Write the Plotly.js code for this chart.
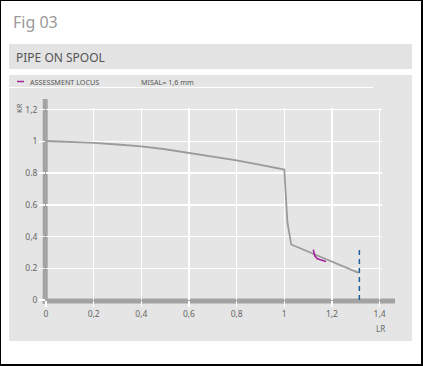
<!DOCTYPE html>
<html>
<head>
<meta charset="utf-8">
<script src="https://cdn.plot.ly/plotly-3.0.1.min.js"></script>
<style>
html,body{margin:0;padding:0;background:#fff;}
#chart{width:423px;height:366px;}
</style>
</head>
<body>
<div id="chart"></div>
<script>
// ---- data ----
var curveLR = [0, 0.1, 0.2, 0.3, 0.4, 0.5, 0.6, 0.7, 0.8, 0.9, 1.0, 1.013, 1.029, 1.312];
var curveKR = [1.002, 0.997, 0.99, 0.98, 0.968, 0.95, 0.928, 0.905, 0.88, 0.852, 0.822, 0.49, 0.35, 0.171];
var locusLR = [1.122, 1.127, 1.139, 1.153, 1.175];
var locusKR = [0.318, 0.28, 0.26, 0.253, 0.243];
var cutoffLR = [1.315, 1.315];
var cutoffKR = [0, 0.327];
var xTickVals = [0, 0.2, 0.4, 0.6, 0.8, 1, 1.2, 1.4];
var xTickText = ['0', '0,2', '0,4', '0,6', '0,8', '1', '1,2', '1,4'];
var yTickVals = [0, 0.2, 0.4, 0.6, 0.8, 1, 1.2];
var yTickText = ['0', '0.2', '0,4', '0.6', '0.8', '1', '1,2'];
var figTitle = 'Fig 03';
var panelTitle = 'PIPE ON SPOOL';
var legendLabel = 'ASSESSMENT LOCUS';
var misalLabel = 'MISAL= 1,6 mm';
var xLabel = 'LR';
var yLabel = 'KR';

// ---- geometry (pixels -> paper) ----
var WIDTH = 423, HEIGHT = 366;
var M = {l: 46, r: 41, t: 108, b: 66, pad: 0};
var PW = WIDTH - M.l - M.r, PH = HEIGHT - M.t - M.b;
function px(x) { return (x - M.l) / PW; }
function py(y) { return (HEIGHT - M.b - y) / PH; }

var FONT = 'Noto Sans, sans-serif';
var BAND = '#e5e5e5';
var BAR = '#a3a3a3';

function rect(x0, y0, x1, y1, fill, layer) {
  return {type: 'rect', xref: 'paper', yref: 'paper', x0: px(x0), x1: px(x1), y0: py(y0), y1: py(y1),
    fillcolor: fill, line: {width: 0}, layer: layer || 'below'};
}
function hline(x0, x1, y, color, w, layer) {
  return {type: 'line', xref: 'paper', yref: 'paper', x0: px(x0), x1: px(x1), y0: py(y), y1: py(y),
    line: {color: color, width: w}, layer: layer || 'below'};
}
function vline(x, y0, y1, color, w, layer) {
  return {type: 'line', xref: 'paper', yref: 'paper', x0: px(x), x1: px(x), y0: py(y0), y1: py(y1),
    line: {color: color, width: w}, layer: layer || 'below'};
}

var shapes = [
  rect(9, 44, 412, 69, '#e3e3e3'),
  rect(9, 75, 412, 341, BAND),
  hline(9, 373, 87.5, '#ffffff', 1),
  hline(17, 24, 81.5, '#a3239b', 1.5),
  rect(42.7, 99, 47.7, 303.5, BAR),
  rect(42.7, 298.5, 395, 303.5, BAR),
  hline(0, 423, 0.5, '#000', 1, 'above'),
  hline(0, 423, 365, '#000', 2, 'above'),
  vline(0.5, 0, 366, '#000', 1, 'above'),
  vline(422, 0, 366, '#000', 2, 'above')
];

function ann(text, x, y, size, color, xanchor, extra) {
  var a = {text: text, xref: 'paper', yref: 'paper', x: px(x), y: py(y), xanchor: xanchor || 'left',
    yanchor: 'middle', showarrow: false, font: {family: FONT, size: size, color: color}};
  for (var k in extra) a[k] = extra[k];
  return a;
}

var annotations = [
  ann(figTitle, 11, 22, 16, '#9a9a9a'),
  ann(panelTitle, 14, 57.5, 12, '#555555'),
  ann(legendLabel, 28, 81.5, 7.2, '#555555'),
  ann(misalLabel, 139, 81.5, 7.2, '#555555'),
  ann(xLabel, 380, 328, 8, '#666666', 'center'),
  ann(yLabel, 18.5, 108.5, 7.5, '#666666', 'center', {textangle: -90})
];

var traces = [
  {x: curveLR, y: curveKR, type: 'scatter', mode: 'lines', line: {color: '#9b9b9b', width: 1.8}},
  {x: locusLR, y: locusKR, type: 'scatter', mode: 'lines', line: {color: '#a3239b', width: 1.6}},
  {x: cutoffLR, y: cutoffKR, type: 'scatter', mode: 'lines', line: {color: '#1f5c99', width: 1.5, dash: '5px,4px'}}
];

var layout = {
  width: WIDTH, height: HEIGHT, margin: M,
  paper_bgcolor: '#ffffff', plot_bgcolor: 'rgba(0,0,0,0)',
  showlegend: false, hovermode: false,
  font: {family: FONT, size: 9, color: '#666666'},
  xaxis: {range: [0, 1.41], tickmode: 'array', tickvals: xTickVals, ticktext: xTickText,
    showgrid: true, gridcolor: '#ffffff', gridwidth: 1.5, zeroline: false, showline: false,
    ticks: 'outside', ticklen: 6, tickwidth: 1.5, tickcolor: '#ffffff',
    tickfont: {family: FONT, size: 8.5, color: '#666666'}, fixedrange: true},
  yaxis: {range: [0, 1.21], tickmode: 'array', tickvals: yTickVals, ticktext: yTickText,
    showgrid: true, gridcolor: '#ffffff', gridwidth: 1.5, zeroline: false, showline: false,
    ticks: 'outside', ticklen: 6, tickwidth: 1.5, tickcolor: '#ffffff',
    tickfont: {family: FONT, size: 8.5, color: '#666666'}, fixedrange: true},
  shapes: shapes,
  annotations: annotations
};

Plotly.newPlot('chart', traces, layout, {staticPlot: true, displayModeBar: false});
</script>
</body>
</html>
